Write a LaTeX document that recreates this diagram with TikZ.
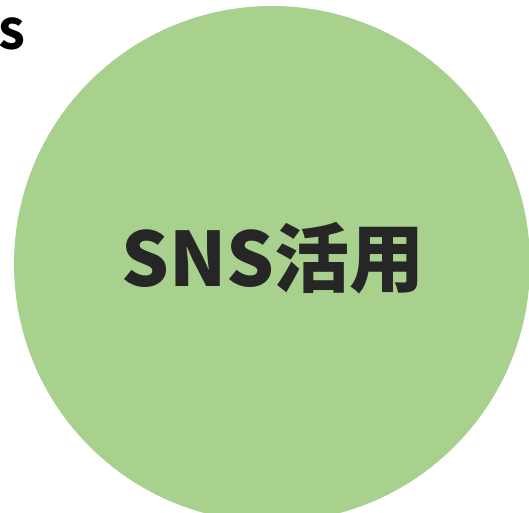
\documentclass[tikz,border=0pt]{standalone}
\usepackage{fontspec}
\newfontfamily\cjk{Noto Sans CJK JP}
\definecolor{circgreen}{HTML}{A9D18E}
\definecolor{txtdark}{HTML}{262626}
\begin{document}
\begin{tikzpicture}[x=1pt,y=-1pt,
  bigcircle/.style={circle,fill=circgreen,draw=none,minimum size=516pt,inner sep=0pt},
  maintext/.style={font=\cjk\bfseries\fontsize{75}{88}\selectfont,text=txtdark},
  cornertext/.style={font=\cjk\bfseries\fontsize{42}{48}\selectfont,text=black,anchor=east}]
\useasboundingbox (0,0) rectangle (529,512);
\clip (0,0) rectangle (529,512);
\node[bigcircle] (c) at (272,264) {};
\node[maintext] (t) at (273,258) {SNS活用};
\node[cornertext] (s) at (29,34) {SNS};
\end{tikzpicture}
\end{document}
